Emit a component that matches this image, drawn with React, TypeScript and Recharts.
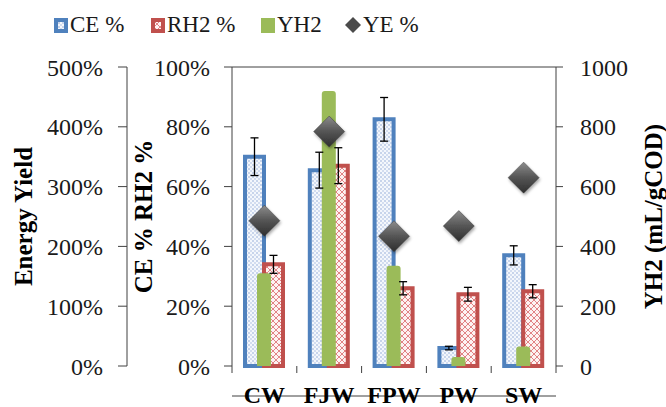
import React from "react"
import {
  ComposedChart,
  Bar,
  Scatter,
  XAxis,
  YAxis,
  ErrorBar,
  ReferenceLine,
} from "recharts"

const categories = ["CW", "FJW", "FPW", "PW", "SW"]
const ceValues = [70, 65.5, 82.5, 6, 37]
const ceErrors = [6.3, 6, 7.3, 0.6, 3.2]
const rh2Values = [34, 67, 26, 24, 25]
const rh2Errors = [3, 6, 2.2, 2.3, 2.2]
const yh2Values = [310, 920, 335, 30, 65]
const yeValues = [243, 392, 217, 234, 315]

const pctTicks = [0, 20, 40, 60, 80, 100]
const eyTicks = [0, 100, 200, 300, 400, 500]
const yhTicks = [0, 200, 400, 600, 800, 1000]

const W = 666
const H = 407
const TOP = 67
const XAXIS_H = 41
const EY_W = 127
const CE_W = 105
const YH_W = 110
const PLOT_BOTTOM = H - XAXIS_H
const BAND = (W - EY_W - CE_W - YH_W) / categories.length

const FONT = "Liberation Serif"
const AXIS = "#404040"
const BLUE = "#4F81BD"
const RED = "#C0504D"
const GREEN = "#9BBB59"

const data = categories.map((name, i) => ({
  name,
  ce: ceValues[i],
  ceErr: ceErrors[i],
  rh2: rh2Values[i],
  rh2Err: rh2Errors[i],
  yh2: yh2Values[i],
  ye: yeValues[i],
}))

const tickStyle = { fontFamily: FONT, fontSize: 24, fill: "#1a1a1a" }
const titleStyle = { fontFamily: FONT, fontSize: 25, fontWeight: 700, fill: "#000", textAnchor: "middle" as const }

// category label in the middle, small tick marks on the borders between categories
function XTick(props: any) {
  const { x, payload, index } = props
  return (
    <g>
      <line x1={x - BAND / 2} x2={x - BAND / 2} y1={PLOT_BOTTOM} y2={PLOT_BOTTOM + 7} stroke={AXIS} />
      {index === categories.length - 1 && (
        <line x1={x + BAND / 2} x2={x + BAND / 2} y1={PLOT_BOTTOM} y2={PLOT_BOTTOM + 7} stroke={AXIS} />
      )}
      <text x={x} y={PLOT_BOTTOM + 37} textAnchor="middle" fontFamily={FONT} fontSize={24} fontWeight={700} fill="#000">
        {payload.value}
      </text>
    </g>
  )
}

function Diamond(props: any) {
  const { cx, cy } = props
  const r = 15.5
  return (
    <polygon
      points={`${cx},${cy - r} ${cx + r},${cy} ${cx},${cy + r} ${cx - r},${cy}`}
      fill="url(#diamondGrad)"
      stroke="#3a3a3a"
      strokeWidth={0.5}
      filter="url(#diamondShadow)"
    />
  )
}

function Legend() {
  const item = (left: number, icon: React.ReactNode, label: string) => (
    <div style={{ position: "absolute", left, top: 10, display: "flex", alignItems: "center", height: 30 }}>
      {icon}
      <span style={{ fontFamily: FONT, fontSize: 23, color: "#1a1a1a", marginLeft: 2 }}>{label}</span>
    </div>
  )
  const box = (bg: string, pattern?: string) => (
    <svg width={14} height={15} style={{ display: "block" }}>
      <rect x={0.5} y={0.5} width={13} height={14} fill={bg} stroke={bg} />
      {pattern && <rect x={4} y={4} width={6} height={7} fill={pattern} />}
    </svg>
  )
  return (
    <>
      {item(54, box(BLUE, "url(#cePat)"), "CE %")}
      {item(151, box(RED, "url(#rhPat)"), "RH2 %")}
      {item(261, box(GREEN), "YH2")}
      {item(
        345,
        <svg width={16} height={16} style={{ display: "block" }}>
          <polygon points="8,0 16,8 8,16 0,8" fill="#4a4a4a" />
        </svg>,
        "YE %"
      )}
    </>
  )
}

export default function App() {
  return (
    <div style={{ position: "absolute", left: 0, top: 0, width: W, height: H, background: "#fff" }}>
      <ComposedChart width={W} height={H} data={data} margin={{ top: TOP, right: 0, bottom: 0, left: 0 }} barGap={0}>
        <defs>
          <pattern id="cePat" width={4} height={4} patternUnits="userSpaceOnUse">
            <rect width={4} height={4} fill="#f4f7fc" />
            <circle cx={1} cy={1} r={0.8} fill="#8fa9d6" />
            <circle cx={3} cy={3} r={0.8} fill="#a9bde2" />
          </pattern>
          <pattern id="rhPat" width={6} height={6} patternUnits="userSpaceOnUse">
            <rect width={6} height={6} fill="#fdf2f2" />
            <path d="M0,0 L6,6 M6,0 L0,6" stroke="#d9676a" strokeWidth={0.8} />
          </pattern>
          <linearGradient id="diamondGrad" x1="0" y1="0" x2="0" y2="1">
            <stop offset="0%" stopColor="#8c8c8c" />
            <stop offset="50%" stopColor="#555" />
            <stop offset="100%" stopColor="#2e2e2e" />
          </linearGradient>
          <filter id="diamondShadow" x="-50%" y="-50%" width="200%" height="200%">
            <feDropShadow dx={1} dy={2} stdDeviation={1.5} floodColor="#000" floodOpacity={0.35} />
          </filter>
        </defs>
        <XAxis
          xAxisId="main"
          dataKey="name"
          height={XAXIS_H}
          interval={0}
          tickLine={false}
          axisLine={{ stroke: AXIS }}
          tick={<XTick />}
        />
        <XAxis xAxisId="g" dataKey="name" hide />
        <YAxis
          yAxisId="ce"
          orientation="left"
          width={CE_W}
          domain={[0, 100]}
          ticks={pctTicks}
          tickFormatter={(v: number) => `${v}%`}
          tickSize={8}
          tickMargin={14}
          tick={tickStyle}
          axisLine={{ stroke: AXIS }}
          tickLine={{ stroke: AXIS }}
          label={{ value: "CE % RH2 %", angle: -90, position: "insideLeft", offset: 16, style: titleStyle }}
        />
        <YAxis
          yAxisId="ey"
          orientation="left"
          width={EY_W}
          domain={[0, 500]}
          ticks={eyTicks}
          tickFormatter={(v: number) => `${v}%`}
          tickSize={9}
          tickMargin={15}
          tick={tickStyle}
          axisLine={{ stroke: AXIS }}
          tickLine={{ stroke: AXIS }}
          label={{ value: "Energy Yield", angle: -90, position: "insideLeft", offset: 23, style: titleStyle }}
        />
        <YAxis
          yAxisId="yh"
          orientation="right"
          width={YH_W}
          domain={[0, 1000]}
          ticks={yhTicks}
          tickSize={7}
          tickMargin={17}
          tick={tickStyle}
          axisLine={{ stroke: AXIS }}
          tickLine={{ stroke: AXIS }}
          label={{ value: "YH2  (mL/gCOD)", angle: -90, position: "insideRight", offset: 13, style: titleStyle }}
        />
        <ReferenceLine yAxisId="ce" xAxisId="main" y={100} stroke={AXIS} />
        <Bar
          xAxisId="main"
          yAxisId="ce"
          dataKey="ce"
          barSize={19}
          fill="url(#cePat)"
          stroke={BLUE}
          strokeWidth={4}
          isAnimationActive={false}
        >
          <ErrorBar dataKey="ceErr" width={4} stroke="#000" strokeWidth={1.3} />
        </Bar>
        <Bar
          xAxisId="main"
          yAxisId="ce"
          dataKey="rh2"
          barSize={19}
          fill="url(#rhPat)"
          stroke={RED}
          strokeWidth={4}
          isAnimationActive={false}
        >
          <ErrorBar dataKey="rh2Err" width={4} stroke="#000" strokeWidth={1.3} />
        </Bar>
        <Bar
          xAxisId="g"
          yAxisId="yh"
          dataKey="yh2"
          barSize={14}
          fill={GREEN}
          radius={[3, 3, 0, 0]}
          isAnimationActive={false}
        />
        <Scatter xAxisId="main" yAxisId="ey" dataKey="ye" shape={<Diamond />} isAnimationActive={false} />
      </ComposedChart>
      <Legend />
    </div>
  )
}
